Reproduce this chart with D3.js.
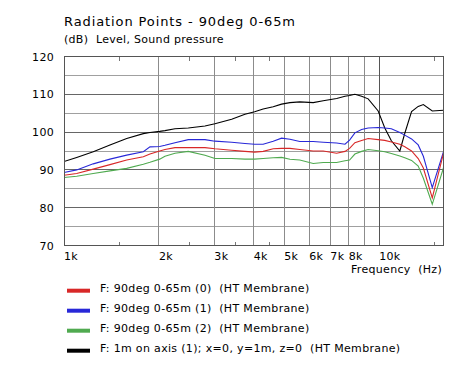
<!DOCTYPE html>
<html>
<head>
<meta charset="utf-8">
<script src="https://cdn.jsdelivr.net/npm/d3@7/dist/d3.min.js"></script>
<style>
html,body{margin:0;padding:0;background:#fff;}
svg{display:block;}
text{font-family:"DejaVu Sans",Verdana,sans-serif;white-space:pre;}
</style>
</head>
<body>
<svg id="chart" width="466" height="381"></svg>
<script>
// ---- data ----
const title = "Radiation Points - 90deg 0-65m";
const subtitle = "(dB)  Level, Sound pressure";
const xAxisTitle = "Frequency  (Hz)";
const yTicks = [70, 80, 90, 100, 110, 120];
const yHalfTicks = [75, 85, 95, 105, 115];
const xGridFreqs = [2000, 3000, 4000, 5000, 6000, 7000, 8000, 9000, 10000];
const xLabelFreqs = [1000, 2000, 3000, 4000, 5000, 6000, 7000, 8000, 10000];
const xLabels = ["1k", "2k", "3k", "4k", "5k", "6k", "7k", "8k", "10k"];
const xMinorTicks = [1500, 2500, 3500, 4500, 15000];

const freq = [1000, 1097, 1238, 1399, 1581, 1785, 1874, 2012, 2091, 2250,
  2479, 2801, 3012, 3404, 3751, 4026, 4284, 4611, 4902, 5210,
  5600, 6176, 6644, 7330, 7790, 8056, 8375, 8796, 9228, 9927,
  10420, 10930, 11630, 12060, 12670, 13300, 13810, 14740, 16000];

const red = [88.6, 89.05, 90.2, 91.4, 92.6, 93.5, 94.2, 95.0, 95.4, 95.9,
  95.9, 95.9, 95.6, 95.2, 94.9, 94.7, 94.9, 95.6, 95.7, 95.7,
  95.4, 95.0, 95.0, 94.4, 94.9, 95.7, 97.2, 97.8, 98.3, 98.0,
  97.8, 97.4, 96.8, 96.1, 95.0, 93.0, 90.5, 82.6, 94.4];

const blue = [89.3, 90.0, 91.6, 92.85, 93.9, 94.8, 96.1, 96.2, 96.5, 97.2,
  98.0, 98.0, 97.6, 97.3, 97.0, 96.8, 96.8, 97.6, 98.4, 98.1,
  97.5, 97.5, 97.3, 97.1, 96.8, 97.9, 99.8, 100.7, 101.1, 101.2,
  101.1, 100.9, 99.9, 99.2, 98.2, 96.6, 93.6, 85.3, 94.8];

const green = [88.0, 88.3, 89.05, 89.75, 90.4, 91.5, 92.0, 92.85, 93.6, 94.4,
  94.9, 93.9, 93.0, 93.0, 92.85, 92.85, 93.0, 93.2, 93.3, 92.8,
  92.6, 91.7, 91.95, 91.95, 92.4, 92.6, 94.2, 94.9, 95.4, 95.05,
  94.8, 94.35, 93.7, 93.2, 92.5, 91.0, 87.8, 80.9, 90.6];

const black = [92.2, 93.3, 94.8, 96.6, 98.3, 99.6, 99.9, 100.2, 100.4, 100.9,
  101.1, 101.6, 102.2, 103.4, 104.7, 105.4, 106.1, 106.7, 107.4, 107.8,
  108.0, 107.8, 108.3, 108.9, 109.5, 109.7, 110.0, 109.5, 108.8, 105.6,
  101.1, 97.7, 95.0, 99.7, 105.4, 106.8, 107.3, 105.6, 105.8];

const seriesNames = [
  "F: 90deg 0-65m (0)  (HT Membrane)",
  "F: 90deg 0-65m (1)  (HT Membrane)",
  "F: 90deg 0-65m (2)  (HT Membrane)",
  "F: 1m on axis (1); x=0, y=1m, z=0  (HT Membrane)"
];
const seriesValues = [red, blue, green, black];
const seriesColors = ["#d82828", "#2828d8", "#50aa50", "#000000"];
const drawOrder = [3, 1, 0, 2];

// ---- layout ----
const svg = d3.select("#chart");
const L = 64, R = 443.5, T = 56.5, B = 245.5;
const x = d3.scaleLog().domain([1000, 16000]).range([L, R]);
const y = d3.scaleLinear().domain([70, 120]).range([B, T]);

// titles
svg.append("text").attr("x", L).attr("y", 26).attr("font-size", 13)
  .attr("letter-spacing", 0.9).attr("fill", "#000").text(title);
svg.append("text").attr("x", L).attr("y", 43).attr("font-size", 11)
  .attr("letter-spacing", 0.3).attr("fill", "#000").text(subtitle);

// grid
const g = svg.append("g").attr("shape-rendering", "crispEdges");
g.selectAll(".hh").data(yHalfTicks).enter().append("line")
  .attr("x1", L).attr("x2", R).attr("y1", d => y(d)).attr("y2", d => y(d))
  .attr("stroke", "#a0a0a0");
g.selectAll(".hm").data(yTicks.slice(1, -1)).enter().append("line")
  .attr("x1", L).attr("x2", R).attr("y1", d => y(d)).attr("y2", d => y(d))
  .attr("stroke", "#666");
g.selectAll(".vg").data(xGridFreqs).enter().append("line")
  .attr("x1", d => x(d)).attr("x2", d => x(d)).attr("y1", T).attr("y2", B)
  .attr("stroke", d => d === 10000 ? "#555" : "#8c8c8c");
// minor ticks top & bottom
g.selectAll(".mt").data(xMinorTicks).enter().append("line")
  .attr("x1", d => x(d)).attr("x2", d => x(d)).attr("y1", T).attr("y2", T + 4)
  .attr("stroke", "#777");
g.selectAll(".mb").data(xMinorTicks).enter().append("line")
  .attr("x1", d => x(d)).attr("x2", d => x(d)).attr("y1", B - 4).attr("y2", B)
  .attr("stroke", "#777");

// curves
svg.append("clipPath").attr("id", "clip").append("rect")
  .attr("x", L).attr("y", T).attr("width", R - L).attr("height", B - T);
const line = d3.line().x((d, i) => x(freq[i])).y(d => y(d));
const cg = svg.append("g").attr("clip-path", "url(#clip)");
drawOrder.forEach(k => {
  cg.append("path").attr("d", line(seriesValues[k]))
    .attr("fill", "none").attr("stroke", seriesColors[k]).attr("stroke-width", 1.1);
});

// border
svg.append("rect").attr("x", L).attr("y", T).attr("width", R - L).attr("height", B - T)
  .attr("fill", "none").attr("stroke", "#555").attr("shape-rendering", "crispEdges");

// y labels
svg.selectAll(".yl").data(yTicks).enter().append("text")
  .attr("x", 54).attr("y", d => y(d) + 4).attr("text-anchor", "end")
  .attr("font-size", 11).attr("letter-spacing", 0.3).attr("fill", "#000").text(d => d);

// x labels
svg.selectAll(".xl").data(xLabelFreqs).enter().append("text")
  .attr("x", d => x(d)).attr("y", 259.5).attr("letter-spacing", 0.3)
  .attr("font-size", 11).attr("fill", "#000").text((d, i) => xLabels[i]);
svg.append("text").attr("x", 442).attr("y", 273).attr("text-anchor", "end")
  .attr("font-size", 11).attr("letter-spacing", 0.3).attr("fill", "#000").text(xAxisTitle);

// legend
seriesNames.forEach((name, i) => {
  const cy = 290.7 + i * 20;
  svg.append("rect").attr("x", 67).attr("y", cy - 2).attr("width", 23).attr("height", 4)
    .attr("fill", seriesColors[i]);
  svg.append("text").attr("x", 100).attr("y", cy + 1.5).attr("font-size", 11)
    .attr("letter-spacing", 0.33).attr("fill", "#000").text(name);
});
</script>
</body>
</html>
